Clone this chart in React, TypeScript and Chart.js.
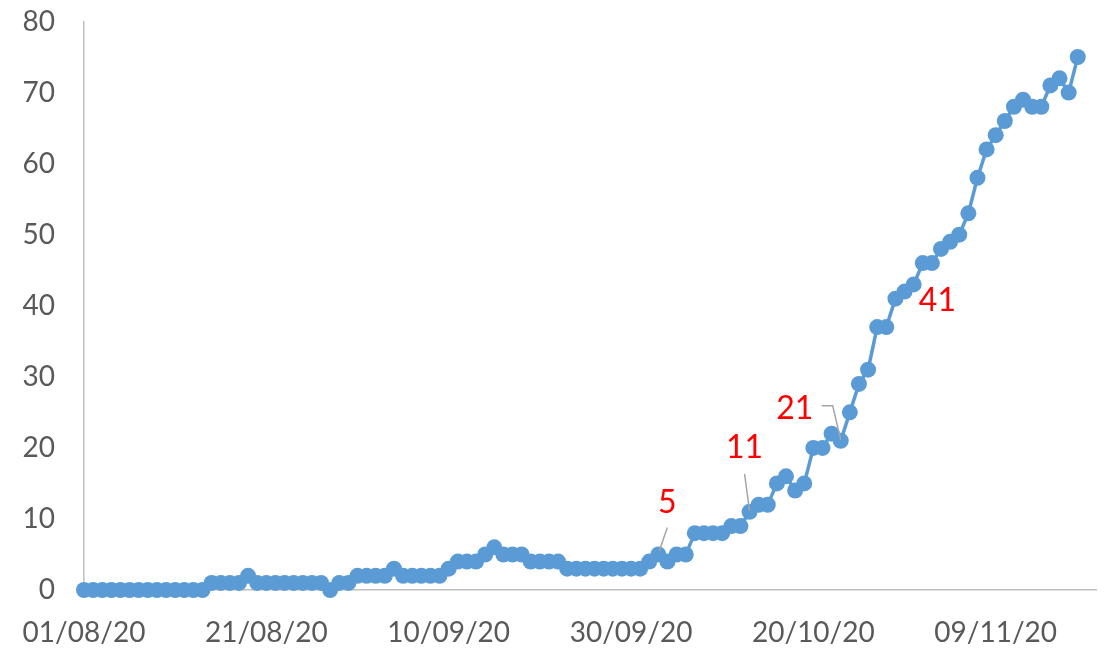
import React, { useEffect, useRef } from "react";
import { Chart, registerables } from "chart.js";

Chart.register(...registerables);

const dates: string[] = [
  "01/08/20","02/08/20","03/08/20","04/08/20","05/08/20","06/08/20","07/08/20","08/08/20","09/08/20","10/08/20",
  "11/08/20","12/08/20","13/08/20","14/08/20","15/08/20","16/08/20","17/08/20","18/08/20","19/08/20","20/08/20",
  "21/08/20","22/08/20","23/08/20","24/08/20","25/08/20","26/08/20","27/08/20","28/08/20","29/08/20","30/08/20",
  "31/08/20","01/09/20","02/09/20","03/09/20","04/09/20","05/09/20","06/09/20","07/09/20","08/09/20","09/09/20",
  "10/09/20","11/09/20","12/09/20","13/09/20","14/09/20","15/09/20","16/09/20","17/09/20","18/09/20","19/09/20",
  "20/09/20","21/09/20","22/09/20","23/09/20","24/09/20","25/09/20","26/09/20","27/09/20","28/09/20","29/09/20",
  "30/09/20","01/10/20","02/10/20","03/10/20","04/10/20","05/10/20","06/10/20","07/10/20","08/10/20","09/10/20",
  "10/10/20","11/10/20","12/10/20","13/10/20","14/10/20","15/10/20","16/10/20","17/10/20","18/10/20","19/10/20",
  "20/10/20","21/10/20","22/10/20","23/10/20","24/10/20","25/10/20","26/10/20","27/10/20","28/10/20","29/10/20",
  "30/10/20","31/10/20","01/11/20","02/11/20","03/11/20","04/11/20","05/11/20","06/11/20","07/11/20","08/11/20",
  "09/11/20","10/11/20","11/11/20","12/11/20","13/11/20","14/11/20","15/11/20","16/11/20","17/11/20","18/11/20",
  "19/11/20","20/11/20",
];

const values: number[] = [
  0,0,0,0,0,0,0,0,0,0,0,0,0,0,
  1,1,1,1,2,1,1,1,1,1,1,1,1,
  0,1,1,2,2,2,2,3,2,2,2,2,2,
  3,4,4,4,5,6,5,5,5,4,4,4,4,
  3,3,3,3,3,3,3,3,3,4,5,4,5,5,
  8,8,8,8,9,9,11,12,12,15,16,14,15,
  20,20,22,21,25,29,31,37,37,41,42,43,46,46,48,49,50,53,58,62,
  64,66,68,69,68,68,71,72,70,75,
];

const tickLabels: string[] = ["01/08/20","21/08/20","10/09/20","30/09/20","20/10/20","09/11/20"];
const yTicks = { min: 0, max: 80, step: 10 };

// indices of points carrying a data label
const labelledIndices: number[] = [63, 73, 83, 89];

// label placement (offsets relative to the point, in px) and leader lines
const labelStyle: Record<number, { dx: number; dy: number; leader: [number, number][] }> = {
  63: { dx: 9, dy: -52, leader: [[9, -27], [1, -4]] },
  73: { dx: -5, dy: -64, leader: [[-5, -38], [0, -1]] },
  83: { dx: -46, dy: -32, leader: [[-19, -35], [-8, -35], [0, -1]] },
  89: { dx: 42, dy: 2, leader: [] },
};

const FONT = "Lato, 'Open Sans', 'DejaVu Sans', sans-serif";

const dataLabelPlugin = {
  id: "dataLabelsCustom",
  afterDatasetsDraw(chart: any) {
    const ctx = chart.ctx as CanvasRenderingContext2D;
    const meta = chart.getDatasetMeta(0);
    ctx.save();
    labelledIndices.forEach((idx) => {
      const el = meta.data[idx];
      if (!el) return;
      const st = labelStyle[idx];
      const px = el.x;
      const py = el.y;
      if (st.leader.length > 1) {
        ctx.beginPath();
        ctx.strokeStyle = "#A6A6A6";
        ctx.lineWidth = 1.5;
        st.leader.forEach(([lx, ly], k) => {
          if (k === 0) ctx.moveTo(px + lx, py + ly);
          else ctx.lineTo(px + lx, py + ly);
        });
        ctx.stroke();
      }
      ctx.fillStyle = "#FF0000";
      ctx.font = `32px ${FONT}`;
      ctx.textAlign = "center";
      ctx.textBaseline = "middle";
      ctx.fillText(String(values[idx]), px + st.dx, py + st.dy);
    });
    ctx.restore();
  },
};

export default function App() {
  const ref = useRef<HTMLCanvasElement | null>(null);

  useEffect(() => {
    if (!ref.current) return;
    const chart = new Chart(ref.current, {
      type: "line",
      data: {
        labels: dates,
        datasets: [
          {
            data: values,
            borderColor: "#5B9BD5",
            backgroundColor: "#5B9BD5",
            borderWidth: 3.5,
            pointRadius: 8,
            pointBorderWidth: 0,
            pointBackgroundColor: "#5B9BD5",
            tension: 0,
            clip: false as any,
          },
        ],
      },
      options: {
        responsive: false,
        animation: false,
        layout: { padding: { left: 0, right: 15, top: 21.5, bottom: 0 } },
        plugins: {
          legend: { display: false },
          tooltip: { enabled: false },
        },
        scales: {
          x: {
            type: "category",
            offset: false,
            grid: { display: false, drawTicks: false },
            border: { display: true, color: "#BFBFBF", width: 1.5 },
            ticks: {
              autoSkip: false,
              maxRotation: 0,
              minRotation: 0,
              padding: 26,
              color: "#595959",
              font: { family: FONT, size: 28 },
              callback: (_v: any, i: number) => (tickLabels.includes(dates[i]) ? dates[i] : ""),
            },
            afterFit: (scale: any) => {
              scale.height = 58;
              scale.paddingLeft = 0;
              scale.paddingRight = 0;
            },
          },
          y: {
            min: yTicks.min,
            max: yTicks.max,
            grid: { display: false, drawTicks: false },
            border: { display: true, color: "#BFBFBF", width: 1.5 },
            ticks: {
              stepSize: yTicks.step,
              padding: 29,
              color: "#595959",
              font: { family: FONT, size: 28 },
            },
            afterFit: (scale: any) => {
              scale.width = 84;
              scale.paddingTop = 0;
              scale.paddingBottom = 0;
            },
          },
        },
      },
      plugins: [dataLabelPlugin],
    });
    return () => chart.destroy();
  }, []);

  return (
    <div style={{ position: "fixed", left: 0, top: 0, width: 1111, height: 648, background: "#fff" }}>
      <canvas ref={ref} width={1111} height={648} style={{ width: 1111, height: 648 }} />
    </div>
  );
}
